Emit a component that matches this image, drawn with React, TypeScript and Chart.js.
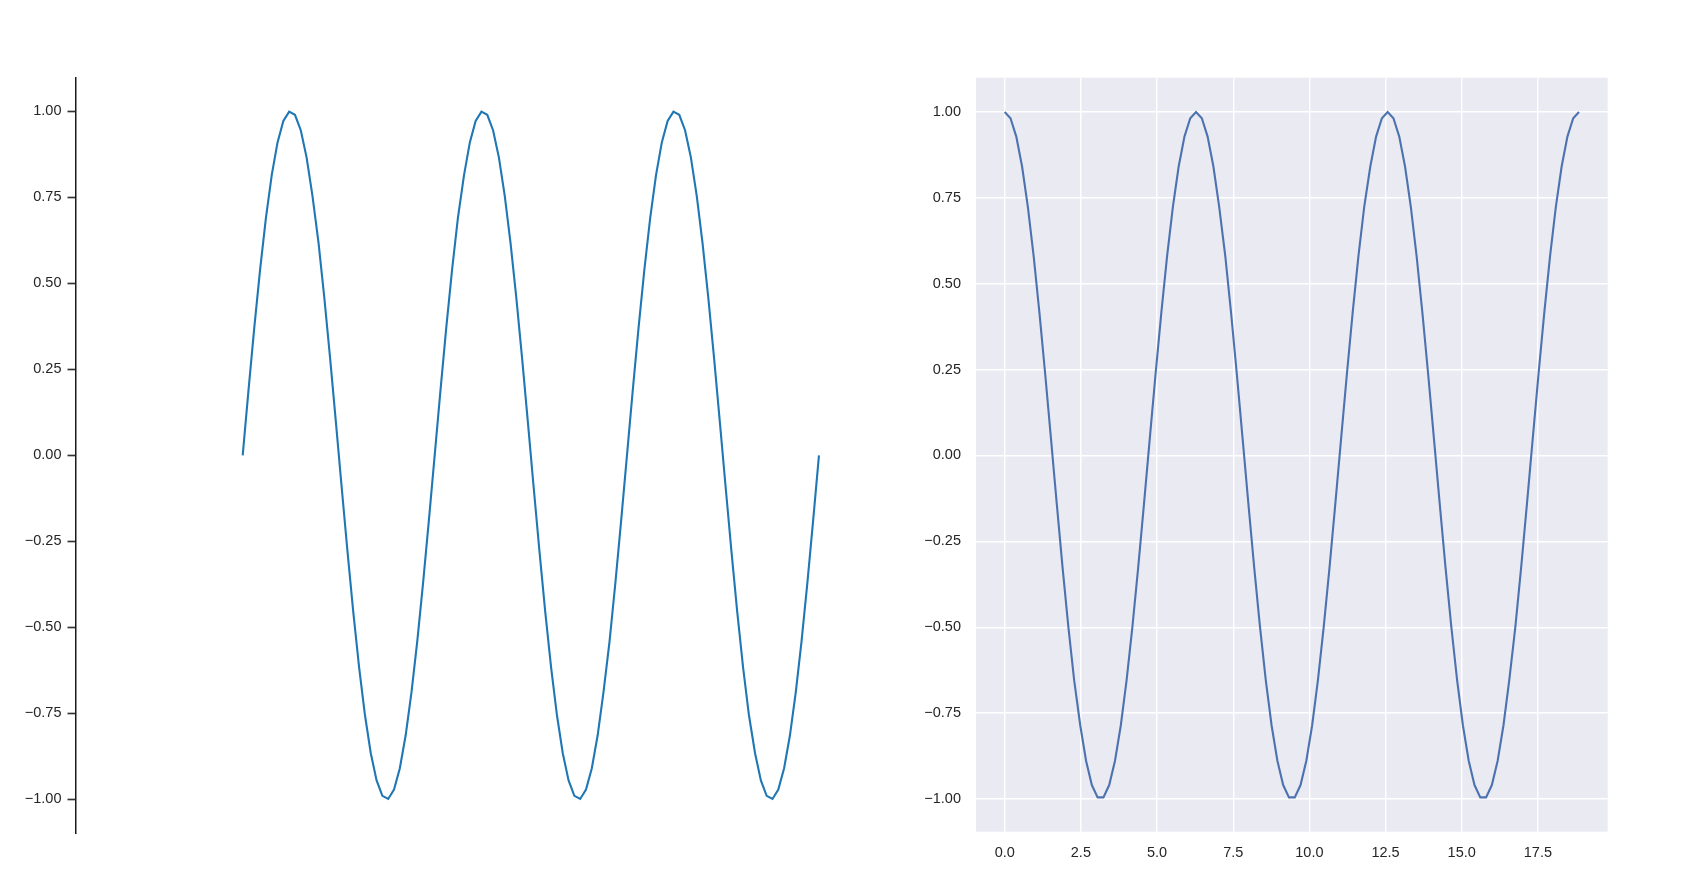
import React, { useEffect, useRef } from "react";
import { Chart, registerables } from "chart.js";

Chart.register(...registerables);

// x positions shared by both panels (0 .. 6π, 100 samples)
const xValues = [
  0.00, 0.19, 0.38, 0.57, 0.76, 0.95, 1.14, 1.33, 1.52, 1.71,
  1.90, 2.09, 2.28, 2.48, 2.67, 2.86, 3.05, 3.24, 3.43, 3.62,
  3.81, 4.00, 4.19, 4.38, 4.57, 4.76, 4.95, 5.14, 5.33, 5.52,
  5.71, 5.90, 6.09, 6.28, 6.47, 6.66, 6.85, 7.04, 7.24, 7.43,
  7.62, 7.81, 8.00, 8.19, 8.38, 8.57, 8.76, 8.95, 9.14, 9.33,
  9.52, 9.71, 9.90, 10.09, 10.28, 10.47, 10.66, 10.85, 11.04, 11.23,
  11.42, 11.61, 11.80, 12.00, 12.19, 12.38, 12.57, 12.76, 12.95, 13.14,
  13.33, 13.52, 13.71, 13.90, 14.09, 14.28, 14.47, 14.66, 14.85, 15.04,
  15.23, 15.42, 15.61, 15.80, 15.99, 16.18, 16.37, 16.56, 16.76, 16.95,
  17.14, 17.33, 17.52, 17.71, 17.90, 18.09, 18.28, 18.47, 18.66, 18.85,
];

// left panel series (sine wave)
const sineValues = [
  0.0000, 0.1893, 0.3717, 0.5406, 0.6901, 0.8146, 0.9096, 0.9718, 0.9989, 0.9898, 0.9450,
  0.8660, 0.7557, 0.6182, 0.4582, 0.2817, 0.0951, -0.0951, -0.2817, -0.4582, -0.6182, -0.7557,
  -0.8660, -0.9450, -0.9898, -0.9989, -0.9718, -0.9096, -0.8146, -0.6901, -0.5406, -0.3717, -0.1893,
  0.0000, 0.1893, 0.3717, 0.5406, 0.6901, 0.8146, 0.9096, 0.9718, 0.9989, 0.9898, 0.9450,
  0.8660, 0.7557, 0.6182, 0.4582, 0.2817, 0.0951, -0.0951, -0.2817, -0.4582, -0.6182, -0.7557,
  -0.8660, -0.9450, -0.9898, -0.9989, -0.9718, -0.9096, -0.8146, -0.6901, -0.5406, -0.3717, -0.1893,
  0.0000, 0.1893, 0.3717, 0.5406, 0.6901, 0.8146, 0.9096, 0.9718, 0.9989, 0.9898, 0.9450,
  0.8660, 0.7557, 0.6182, 0.4582, 0.2817, 0.0951, -0.0951, -0.2817, -0.4582, -0.6182, -0.7557,
  -0.8660, -0.9450, -0.9898, -0.9989, -0.9718, -0.9096, -0.8146, -0.6901, -0.5406, -0.3717, -0.1893,
  0.0000,
];

// right panel series (cosine wave)
const cosineValues = [
  1.0000, 0.9819, 0.9284, 0.8413, 0.7237, 0.5801, 0.4154, 0.2358, 0.0476, -0.1423, -0.3271,
  -0.5000, -0.6549, -0.7861, -0.8888, -0.9595, -0.9955, -0.9955, -0.9595, -0.8888, -0.7861, -0.6549,
  -0.5000, -0.3271, -0.1423, 0.0476, 0.2358, 0.4154, 0.5801, 0.7237, 0.8413, 0.9284, 0.9819,
  1.0000, 0.9819, 0.9284, 0.8413, 0.7237, 0.5801, 0.4154, 0.2358, 0.0476, -0.1423, -0.3271,
  -0.5000, -0.6549, -0.7861, -0.8888, -0.9595, -0.9955, -0.9955, -0.9595, -0.8888, -0.7861, -0.6549,
  -0.5000, -0.3271, -0.1423, 0.0476, 0.2358, 0.4154, 0.5801, 0.7237, 0.8413, 0.9284, 0.9819,
  1.0000, 0.9819, 0.9284, 0.8413, 0.7237, 0.5801, 0.4154, 0.2358, 0.0476, -0.1423, -0.3271,
  -0.5000, -0.6549, -0.7861, -0.8888, -0.9595, -0.9955, -0.9955, -0.9595, -0.8888, -0.7861, -0.6549,
  -0.5000, -0.3271, -0.1423, 0.0476, 0.2358, 0.4154, 0.5801, 0.7237, 0.8413, 0.9284, 0.9819,
  1.0000,
];

const FONT = { family: "'Liberation Sans', Arial, sans-serif", size: 14.5 };
const TEXT = "#262626";

const fmtY = (v: number) => {
  const s = Math.abs(v).toFixed(2);
  return v < -1e-9 ? "\u2212" + s : s;
};
const fmtX = (v: number) => {
  const s = Math.abs(v).toFixed(1);
  return v < -1e-9 ? "\u2212" + s : s;
};

const bgPlugin = {
  id: "bgFill",
  beforeDraw(chart: any, _args: any, opts: any) {
    if (!opts || !opts.color) return;
    const { ctx, chartArea } = chart;
    ctx.save();
    ctx.fillStyle = opts.color;
    ctx.fillRect(chartArea.left, chartArea.top, chartArea.right - chartArea.left, chartArea.bottom - chartArea.top);
    ctx.restore();
  },
};

function toPoints(ys: number[]) {
  return xValues.map((x, i) => ({ x, y: ys[i] }));
}

export default function App() {
  const leftRef = useRef<HTMLCanvasElement>(null);
  const rightRef = useRef<HTMLCanvasElement>(null);

  useEffect(() => {
    document.body.style.margin = "0";
    const left = new Chart(leftRef.current!, {
      type: "line",
      data: {
        datasets: [
          {
            data: toPoints(sineValues),
            borderColor: "#1f77b4",
            borderWidth: 2.1,
            pointRadius: 0,
            tension: 0,
            fill: false,
          },
        ],
      },
      options: {
        animation: false,
        responsive: false,
        layout: { padding: { top: 77.3, bottom: 49.7, left: 0, right: 0 } },
        plugins: { legend: { display: false }, tooltip: { enabled: false } },
        scales: {
          x: { type: "linear", display: false, min: -5.469, max: 19.8 },
          y: {
            type: "linear",
            min: -1.0988,
            max: 1.0988,
            afterFit: (s: any) => {
              s.width = 75.5;
            },
            ticks: { stepSize: 0.25, includeBounds: false, color: TEXT, font: FONT, padding: 6, callback: (v: any) => fmtY(Number(v)) },
            grid: { display: true, drawOnChartArea: false, drawTicks: true, tickLength: 8, tickWidth: 1.67, tickColor: "#333333" },
            border: { display: true, color: "#1a1a1a", width: 1.5 },
          },
        },
      },
    });

    const right = new Chart(rightRef.current!, {
      type: "line",
      data: {
        datasets: [
          {
            data: toPoints(cosineValues),
            borderColor: "#4c72b0",
            borderWidth: 2.1,
            pointRadius: 0,
            tension: 0,
            fill: false,
          },
        ],
      },
      options: {
        animation: false,
        responsive: false,
        layout: { padding: { top: 77.7, bottom: 0, left: 0, right: 80.3 } },
        plugins: { legend: { display: false }, tooltip: { enabled: false }, bgFill: { color: "#eaeaf2" } } as any,
        scales: {
          x: {
            type: "linear",
            min: -0.9425,
            max: 19.792,
            afterFit: (s: any) => {
              s.height = 51.3;
            },
            ticks: { stepSize: 2.5, includeBounds: false, color: TEXT, font: FONT, padding: 13, maxRotation: 0, callback: (v: any) => fmtX(Number(v)) },
            grid: { color: "#ffffff", lineWidth: 1.4, drawTicks: false },
            border: { display: false },
          },
          y: {
            type: "linear",
            min: -1.0953,
            max: 1.0998,
            afterFit: (s: any) => {
              s.width = 128;
            },
            ticks: { stepSize: 0.25, includeBounds: false, color: TEXT, font: FONT, padding: 15, callback: (v: any) => fmtY(Number(v)) },
            grid: { color: "#ffffff", lineWidth: 1.4, drawTicks: false },
            border: { display: false },
          },
        },
      },
      plugins: [bgPlugin],
    });

    return () => {
      left.destroy();
      right.destroy();
    };
  }, []);

  return (
    <div style={{ position: "absolute", left: 0, top: 0, width: 1688, height: 883, background: "#ffffff" }}>
      <canvas ref={leftRef} width={848} height={883} style={{ position: "absolute", left: 0, top: 0, width: 848, height: 883 }} />
      <canvas ref={rightRef} width={840} height={883} style={{ position: "absolute", left: 848, top: 0, width: 840, height: 883 }} />
    </div>
  );
}
